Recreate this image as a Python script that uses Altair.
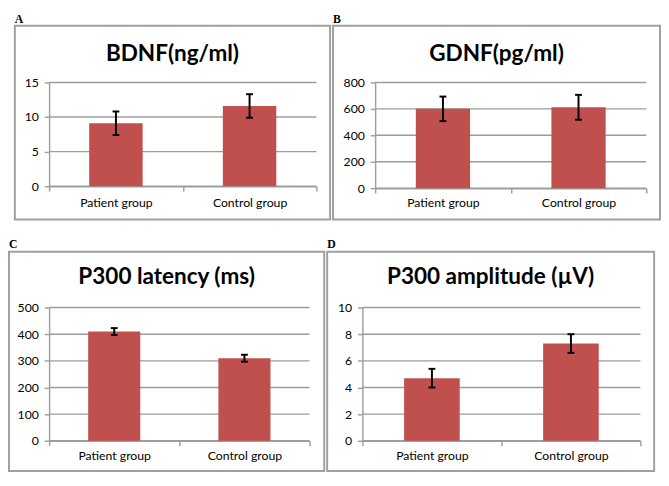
import altair as alt
import pandas as pd

groups = ["Patient group", "Control group"]

bdnf_mean = [9.1, 11.6]
bdnf_err = [1.7, 1.7]
gdnf_mean = [600, 612]
gdnf_err = [93, 94]
lat_mean = [410, 310]
lat_err = [13, 13]
amp_mean = [4.7, 7.3]
amp_err = [0.7, 0.7]

titles = ["BDNF(ng/ml)", "GDNF(pg/ml)", "P300 latency (ms)", "P300 amplitude (\u00b5V)"]
letters = ["A", "B", "C", "D"]

ticks_bdnf = [0, 5, 10, 15]
ticks_gdnf = [0, 200, 400, 600, 800]
ticks_lat = [0, 100, 200, 300, 400, 500]
ticks_amp = [0, 2, 4, 6, 8, 10]

BAR = "#C0504D"
GRAY = "#a0a0a0"
GRID = "#9c9c9c"
BOX = "#a0a0a0"
FONT = "Lato"


def panel(mean, err, yticks, title, letter, W, H, L, R, box_top, box_bot, title_y, xpad):
    df = pd.DataFrame({
        "group": groups,
        "mean": mean,
        "lo": [m - e for m, e in zip(mean, err)],
        "hi": [m + e for m, e in zip(mean, err)],
    })
    grid_df = pd.DataFrame({"tick": yticks})
    deco = pd.DataFrame({"title": [title], "letter": [letter]})

    def xenc():
        return alt.X(
            "group:N", sort=groups, title=None,
            scale=alt.Scale(paddingInner=0, paddingOuter=0),
            axis=alt.Axis(
                labelAngle=0, tickBand="extent", tickSize=5, tickColor=GRAY,
                tickWidth=1.5, domainColor=GRAY, domainWidth=1.5, grid=False,
                labelFont=FONT, labelFontSize=12.5, labelColor="black",
                labelPadding=xpad,
            ),
        )

    def yenc(field):
        return alt.Y(
            field + ":Q", title=None,
            scale=alt.Scale(domain=[yticks[0], yticks[-1]], nice=False),
            axis=alt.Axis(
                values=yticks, grid=False,
                domainColor=GRAY, domainWidth=1.5, tickColor=GRAY,
                tickWidth=1.5, tickSize=5, labelPadding=6, labelFont=FONT,
                labelFontSize=12.5, labelColor="black", labelOverlap=False,
                labelFlush=False,
            ),
        )

    box = alt.Chart(deco).mark_rect(
        filled=False, stroke=BOX, strokeWidth=2
    ).encode(
        x=alt.value(-L), x2=alt.value(W + R),
        y=alt.value(box_top), y2=alt.value(H + box_bot),
    )
    grid = alt.Chart(grid_df).mark_tick(
        color=GRID, thickness=1.5, size=W, orient="horizontal", opacity=1
    ).encode(
        y=yenc("tick"), x=alt.value(W / 2)
    )
    bars = alt.Chart(df).mark_bar(
        color=BAR, width=alt.RelativeBandSize(0.4)
    ).encode(x=xenc(), y=yenc("mean"))
    rule = alt.Chart(df).mark_rule(color="black", strokeWidth=2).encode(
        x=xenc(), y=yenc("lo"), y2="hi:Q"
    )
    cap_lo = alt.Chart(df).mark_tick(color="black", thickness=2, size=7, opacity=1).encode(
        x=xenc(), y=yenc("lo")
    )
    cap_hi = alt.Chart(df).mark_tick(color="black", thickness=2, size=7, opacity=1).encode(
        x=xenc(), y=yenc("hi")
    )
    cx = (-L + W + R) / 2
    ttl = alt.Chart(deco).mark_text(
        font=FONT, fontWeight="bold", fontSize=23, align="center",
        baseline="middle", color="black",
    ).encode(x=alt.value(cx), y=alt.value(title_y), text="title:N")
    let = alt.Chart(deco).mark_text(
        font="Liberation Serif", fontWeight="bold", fontSize=12, align="left",
        baseline="top", color="black",
    ).encode(x=alt.value(-L), y=alt.value(-70), text="letter:N")

    return alt.layer(box, grid, bars, rule, cap_lo, cap_hi, ttl, let).properties(
        width=W, height=H
    )


pA = panel(bdnf_mean, bdnf_err, ticks_bdnf, titles[0], letters[0],
           W=273, H=106, L=35, R=14, box_top=-58, box_bot=34, title_y=-29, xpad=6)
pB = panel(gdnf_mean, gdnf_err, ticks_gdnf, titles[1], letters[1],
           W=277, H=108, L=43, R=14, box_top=-58, box_bot=32, title_y=-29, xpad=4)
pC = panel(lat_mean, lat_err, ticks_lat, titles[2], letters[2],
           W=266, H=136, L=41, R=15, box_top=-57, box_bot=31, title_y=-31, xpad=4)
pD = panel(amp_mean, amp_err, ticks_amp, titles[3], letters[3],
           W=284, H=136, L=36, R=14, box_top=-57, box_bot=31, title_y=-31, xpad=4)

chart = alt.vconcat(
    alt.hconcat(pA, pB, spacing=1),
    alt.hconcat(pC, pD, spacing=1),
    spacing=18,
).properties(padding=0, background="white").configure_view(stroke=None)

chart.save("out.html", embed_options={"renderer": "svg", "actions": False})
